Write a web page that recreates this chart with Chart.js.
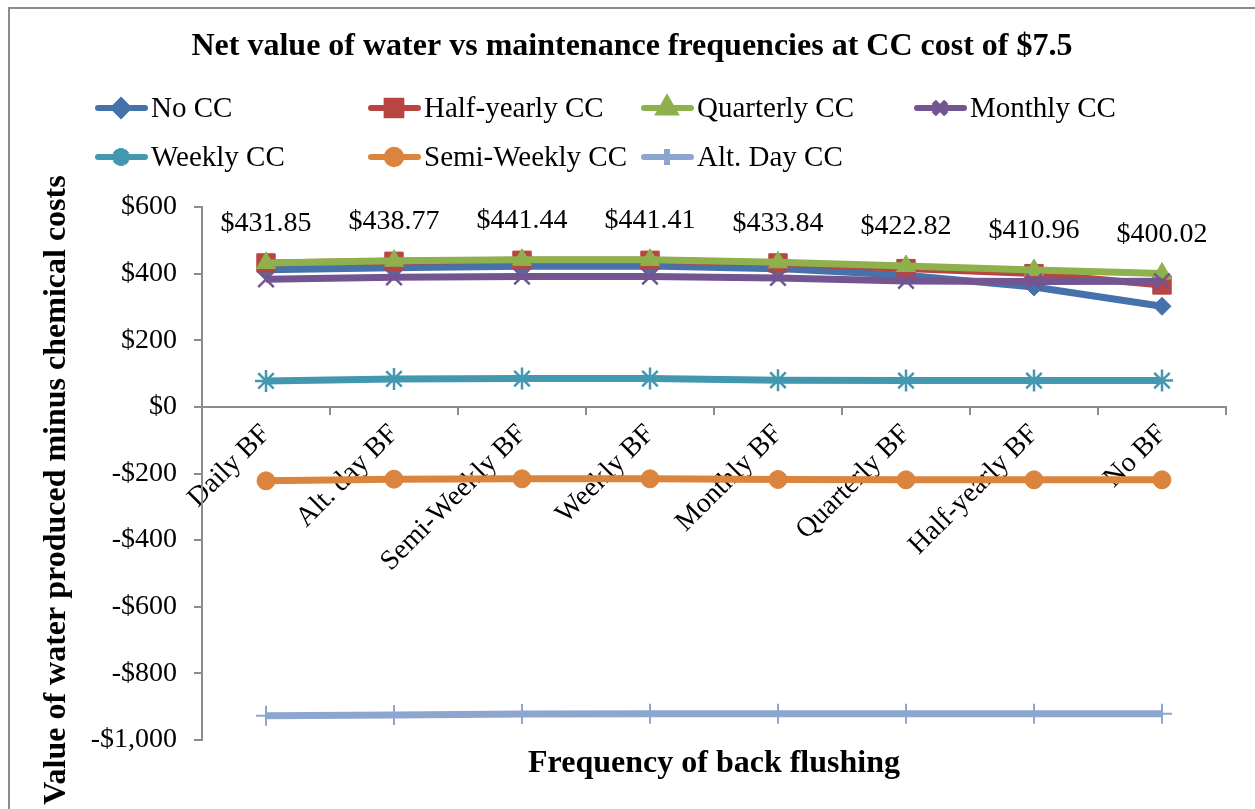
<!DOCTYPE html>
<html>
<head>
<meta charset="utf-8">
<script src="https://cdn.jsdelivr.net/npm/chart.js@4/dist/chart.umd.min.js"></script>
<style>
  html, body { margin: 0; padding: 0; background: #fff; overflow: hidden; }
  #frame { position: absolute; left: 8px; top: 7px; width: 1400px; height: 1000px;
           border: 2px solid #8c8c8c; box-sizing: border-box; }
  #wrap { position: absolute; left: 0; top: 0; width: 1255px; height: 809px; }
</style>
</head>
<body>
<div id="frame"></div>
<div id="wrap"><canvas id="c"></canvas></div>
<script>
// Back-flushing frequencies (x categories)
const categories = ['Daily BF', 'Alt. day BF', 'Semi-Weekly BF', 'Weekly BF',
                    'Monthly BF', 'Quarterly BF', 'Half-yearly BF', 'No BF'];

// Net value of water minus chemical cost, one list per chemical-cleaning frequency
const noCC        = [412, 418, 422, 423, 415, 395, 360, 302];
const halfYearly  = [432, 437, 440, 440, 432, 415, 400, 366];
const quarterly   = [431.85, 438.77, 441.44, 441.41, 433.84, 422.82, 410.96, 400.02];
const monthly     = [383, 389, 391, 391, 387, 378, 376, 377];
const weekly      = [78, 84, 85, 85, 80, 79, 79, 79];
const semiWeekly  = [-222, -217, -216, -216, -218, -219, -219, -219];
const altDay      = [-927, -925, -922, -921, -921, -921, -921, -921];

// Value axis ticks
const yMin = -1000, yMax = 600, yStep = 200;

const chartTitle = 'Net value of water vs maintenance frequencies at CC cost of $7.5';
const xTitle = 'Frequency of back flushing';
const yTitle = 'Value of water produced minus chemical costs';

const SERIF = "'Liberation Serif', 'Times New Roman', serif";

function series(label, data, color, style, radius, idx, bw) {
  return {
    label, data,
    borderColor: color, backgroundColor: color,
    borderWidth: 7,
    pointStyle: style, pointRadius: radius, pointHoverRadius: radius,
    pointBorderColor: color, pointBackgroundColor: color,
    pointBorderWidth: bw || 1,
    tension: 0, fill: false,
    order: 10 - idx
  };
}

const datasets = [
  series('No CC', noCC, '#4672AB', 'rectRot', 9, 0),
  series('Half-yearly CC', halfYearly, '#B74541', 'rect', 13, 1),
  series('Quarterly CC', quarterly, '#8EB04D', 'triangle', 11, 2),
  series('Monthly CC', monthly, '#735591', 'crossRot', 11, 3, 2.5),
  series('Weekly CC', weekly, '#4398AF', 'star', 11, 4, 2.5),
  series('Semi-Weekly CC', semiWeekly, '#DB843D', 'circle', 9, 5),
  series('Alt. Day CC', altDay, '#8DA6CF', 'cross', 10, 6, 2)
];

function money(v) {
  const s = Math.abs(v).toLocaleString('en-US');
  return (v < 0 ? '-$' : '$') + s;
}

// Title, legend in aligned columns, labels on the quarterly series, axis titles
const decorations = {
  id: 'decorations',
  afterDatasetsDraw(chart) {
    const ctx = chart.ctx;
    const meta = chart.getDatasetMeta(2);
    ctx.save();
    ctx.font = '28px ' + SERIF;
    ctx.fillStyle = '#000';
    ctx.textAlign = 'center';
    ctx.textBaseline = 'middle';
    meta.data.forEach((pt, i) => {
      ctx.fillText('$' + quarterly[i].toFixed(2), pt.x, pt.y - 39);
    });
    ctx.restore();
  },
  afterDraw(chart) {
    const ctx = chart.ctx;
    ctx.save();

    // chart title
    ctx.font = 'bold 32px ' + SERIF;
    ctx.fillStyle = '#000';
    ctx.textAlign = 'center';
    ctx.textBaseline = 'middle';
    ctx.fillText(chartTitle, 632, 47);

    // legend
    const cols = [95, 368, 641, 914];
    const rows = [108, 157];
    const layout = [[0, 0, 0], [1, 0, 1], [2, 0, 2], [3, 0, 3], [4, 1, 0], [5, 1, 1], [6, 1, 2]];
    layout.forEach(([di, r, c]) => {
      const ds = chart.data.datasets[di];
      const x0 = cols[c], y = rows[r];
      ctx.strokeStyle = ds.borderColor;
      ctx.lineWidth = 6;
      ctx.lineCap = 'round';
      ctx.beginPath();
      ctx.moveTo(x0 + 3, y);
      ctx.lineTo(x0 + 50, y);
      ctx.stroke();
      ctx.lineCap = 'butt';
      Chart.helpers.drawPoint(ctx, {
        pointStyle: ds.pointStyle, radius: ds.pointRadius * 0.8, borderWidth: ds.pointBorderWidth, rotation: 0
      }, x0 + 26, y);
      ctx.fillStyle = ds.borderColor;
      ctx.strokeStyle = ds.borderColor;
      ctx.lineWidth = ds.pointBorderWidth;
      ctx.fill();
      ctx.stroke();
      ctx.fillStyle = '#000';
      ctx.font = '29px ' + SERIF;
      ctx.textAlign = 'left';
      ctx.textBaseline = 'middle';
      ctx.fillText(ds.label, x0 + 56, y + 1);
    });

    // axis titles
    ctx.font = 'bold 32px ' + SERIF;
    ctx.fillStyle = '#000';
    ctx.textAlign = 'center';
    ctx.textBaseline = 'middle';
    const a = chart.chartArea;
    ctx.fillText(xTitle, (a.left + a.right) / 2, 764);
    ctx.translate(57, 490);
    ctx.rotate(-Math.PI / 2);
    ctx.fillText(yTitle, 0, 0);
    ctx.restore();
  }
};

new Chart(document.getElementById('c'), {
  type: 'line',
  data: { labels: categories, datasets },
  plugins: [decorations],
  options: {
    responsive: true,
    maintainAspectRatio: false,
    animation: false,
    layout: { padding: { left: 0, right: 29, top: 207, bottom: 69 } },
    plugins: {
      legend: { display: false },
      tooltip: { enabled: false },
      title: { display: false }
    },
    scales: {
      x: {
        type: 'category',
        position: { y: 0 },
        offset: true,
        grid: { display: true, drawOnChartArea: false, offset: true, tickLength: 7, color: '#8c8c8c', lineWidth: 2 },
        border: { display: true, color: '#8c8c8c', width: 2 },
        ticks: {
          color: '#000', font: { family: SERIF, size: 28 },
          minRotation: 45, maxRotation: 45, autoSkip: false, padding: 4
        }
      },
      y: {
        min: yMin, max: yMax,
        afterFit(scale) { scale.width = 202; },
        grid: { display: true, drawOnChartArea: false, tickLength: 8, color: '#8c8c8c', lineWidth: 2 },
        border: { display: true, color: '#8c8c8c', width: 2 },
        ticks: {
          stepSize: yStep, padding: 17, color: '#000',
          font: { family: SERIF, size: 28 },
          callback: (v) => money(v)
        }
      }
    }
  }
});
</script>
</body>
</html>
